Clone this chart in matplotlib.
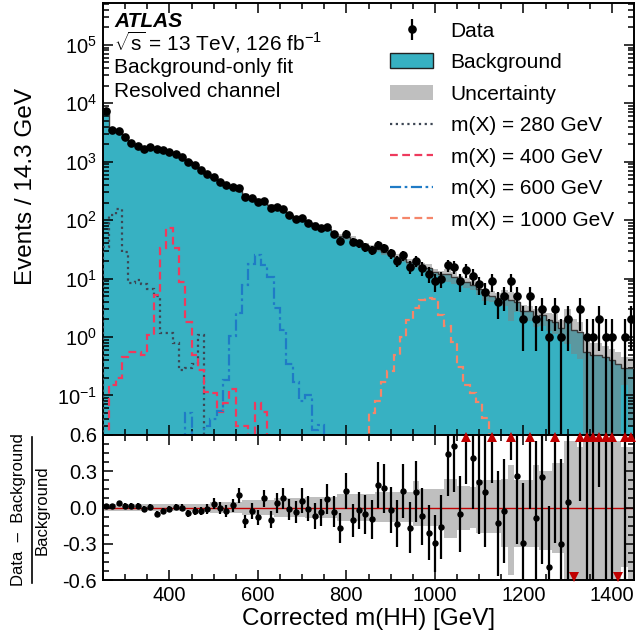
import numpy as np
import matplotlib
matplotlib.use('Agg')
import matplotlib.pyplot as plt
from matplotlib.ticker import MultipleLocator, LogLocator, NullFormatter, FormatStrFormatter
from matplotlib.lines import Line2D
from matplotlib.patches import Patch

plt.rcParams['font.family'] = ['Liberation Sans', 'DejaVu Sans']
plt.rcParams['mathtext.fontset'] = 'custom'
plt.rcParams['mathtext.rm'] = 'Liberation Sans'
plt.rcParams['mathtext.it'] = 'Liberation Sans:italic'
plt.rcParams['mathtext.bf'] = 'Liberation Sans:bold'

# 84 bins of 14.3 GeV between 250 and 1450 GeV
edges = np.linspace(250, 1450, 85)

data = [7300, 3450, 3320, 2650, 2050, 1840, 1680, 1790, 1680, 1570,
        1470, 1345, 1210, 970, 895, 715, 610, 542, 458, 397,
        363, 353, 245, 239, 204, 215, 162, 166, 154, 122,
        105, 110, 90, 79, 72, 76, 58, 44, 59, 43,
        40, 34, 31, 38, 33, 27, 20, 25, 16, 20,
        15, 12, 9, 10, 17, 16, 9, 14, 11, 8,
        6, 9, 4, 5, 9, 5, 2, 5, 2, 3,
        1, 3, 1, 2, 0, 3, 1, 1, 2, 1,
        1, 0, 1, 2]

background = [7230, 3420, 3210, 2610, 2020, 1820, 1705, 1780, 1770, 1615,
              1485, 1340, 1210, 1020, 923, 737, 616, 526, 460, 409,
              356, 321, 277, 246, 222, 200, 180, 160, 143, 124,
              109, 104, 91, 85, 75, 71, 60, 53, 52, 48,
              41, 36, 34.4, 32, 28.5, 27.5, 23.1, 22.0, 19.2, 17.7,
              16.2, 15.2, 12.8, 11.9, 11.8, 10.6, 9.5, 8.6, 7.8, 6.6,
              5.3, 5.0, 4.6, 5.15, 4.3, 3.96, 2.83, 2.8, 2.2, 2.39,
              1.98, 1.8, 1.43, 1.92, 1.3, 1.2, 0.55, 0.5, 0.5, 0.45,
              0.4, 0.35, 0.3, 0.3]

# relative background uncertainty (up / down), per bin
unc_up = ([0.025] * 12 + [0.03] * 5 + [0.045] * 5 + [0.06] * 5 + [0.075] * 5
          + [0.09] * 5 + [0.11] * 6 + [0.13] * 6 + [0.22] + [0.15] * 4
          + [0.24] * 2 + [0.18] * 2 + [0.17] + [0.23] * 4 + [0.24] + [0.35]
          + [0.23] * 3 + [0.35] + [0.30] * 2 + [0.37] * 2 + [0.55] * 2 + [0.50]
          + [0.55] * 6 + [0.50] + [0.50])
unc_down = ([0.025] * 12 + [0.03] * 5 + [0.045] * 5 + [0.06] * 5 + [0.075] * 5
            + [0.09] * 5 + [0.11] * 6 + [0.12] * 6 + [0.15] + [0.15] * 4
            + [0.25] * 2 + [0.19] * 2 + [0.17] + [0.21] * 4 + [0.33] + [0.56]
            + [0.33] * 3 + [0.33] + [0.35] * 2 + [0.38] * 2 + [0.60] * 2 + [0.65]
            + [0.97] * 6 + [0.49] + [0.90])

# signal templates: (first bin index, values)
sig_280 = (0, [35, 122, 158, 28.7, 8.5, 9.5, 8.0, 6.5, 5.0, 1.16, 1.16, 0.78,
               0.27, 0.29, 0.35, 1.08])
sig_400 = (0, [0, 0.15, 0.2, 0.46, 0.55, 0.55, 0.49, 1.08, 5.2, 33, 72, 33, 8.8,
               1.83, 0.49, 0.27, 0.116, 0.109, 0.053, 0.073, 0.13, 0.03, 0.03,
               0, 0.073, 0.053])
sig_600 = (13, [0.05, 0, 0, 0.03, 0.04, 0.055, 0.18, 1.05, 2.6, 7.7, 18, 25, 17,
                10.7, 3.1, 1.32, 0.35, 0.17, 0.08, 0.1, 0.026, 0.031])
sig_1000 = (42, [0.05, 0.079, 0.17, 0.26, 0.49, 1.0, 1.95, 3.1, 4.3, 4.6, 4.4,
                 2.4, 1.54, 0.83, 0.31, 0.15, 0.11, 0.078, 0.041])

signals = [('m(X) = 280 GeV', sig_280, '#3d4654', (0, (1, 1.6))),
           ('m(X) = 400 GeV', sig_400, '#ee3a5d', (0, (3.5, 2))),
           ('m(X) = 600 GeV', sig_600, '#1f7bc6', (0, (5, 1.6, 1.2, 1.6))),
           ('m(X) = 1000 GeV', sig_1000, '#f5866a', (0, (3.5, 2)))]

cyan = '#37b1c2'
data = np.array(data, dtype=float)
background = np.array(background, dtype=float)
up = np.array(unc_up)
dn = np.array(unc_down)
centers = 0.5 * (edges[:-1] + edges[1:])
nb = len(centers)

fig = plt.figure(figsize=(6.36, 6.35), dpi=100)
ax = fig.add_axes([103 / 636, 1 - 435 / 635, 531 / 636, 432 / 635])
rax = fig.add_axes([103 / 636, 1 - 580 / 635, 531 / 636, 145 / 635], sharex=ax)

# ---- main panel
ax.set_yscale('log')
ax.stairs(background, edges, fill=True, color=cyan, baseline=1e-4, zorder=1)
band_lo = np.clip(background * (1 - dn), 1e-4, None)
band_hi = background * (1 + up)
ax.fill_between(edges, np.append(band_lo, band_lo[-1]), np.append(band_hi, band_hi[-1]),
                step='post', color='0.5', alpha=0.5, lw=0, zorder=2)
ax.stairs(background, edges, baseline=None, color='#3a3a3a', lw=1.0, zorder=3)

sig_handles = []
for label, (start, vals), col, ls in signals:
    full = np.zeros(nb)
    full[start:start + len(vals)] = vals
    full = np.where(full > 0, full, 1e-4)
    ax.stairs(full, edges, baseline=1e-4, color=col, lw=1.6, ls=ls, zorder=4)
    sig_handles.append(Line2D([], [], color=col, lw=1.6, ls=ls, label=label))

m = data > 0
err = np.sqrt(data[m])
lo = np.minimum(err, data[m] - 1e-4)
h_data = ax.errorbar(centers[m], data[m], yerr=[lo, err], fmt='o', color='k',
                     ms=5.2, elinewidth=1.6, capsize=0, zorder=6)

ax.set_xlim(250, 1450)
ax.set_ylim(0.021, 5.2e5)
ax.set_ylabel('Events / 14.3 GeV', fontsize=17.5)
ax.yaxis.set_label_coords(-0.124, 0.575)
ax.yaxis.set_major_locator(LogLocator(base=10, numticks=20))
ax.yaxis.set_minor_locator(LogLocator(base=10, subs=np.arange(2, 10), numticks=20))
ax.yaxis.set_minor_formatter(NullFormatter())
plt.setp(ax.get_xticklabels(), visible=False)

ax.text(0.021, 0.945, 'ATLAS', transform=ax.transAxes, fontsize=15,
        fontweight='bold', fontstyle='italic', va='baseline')
ax.text(0.021, 0.891, r'$\sqrt{\mathrm{s}}$ = 13 TeV, 126 fb$^{-1}$', transform=ax.transAxes,
        fontsize=15, va='baseline')
ax.text(0.021, 0.838, 'Background-only fit', transform=ax.transAxes, fontsize=15,
        va='baseline')
ax.text(0.021, 0.783, 'Resolved channel', transform=ax.transAxes, fontsize=15,
        va='baseline')

handles = [h_data,
           Patch(facecolor=cyan, edgecolor='#222222', lw=1.0),
           Patch(facecolor='0.5', alpha=0.5, lw=0)] + sig_handles
labels = ['Data', 'Background', 'Uncertainty'] + [s[0] for s in signals]
ax.legend(handles, labels, loc='upper left', bbox_to_anchor=(0.541, 0.957),
          frameon=False, fontsize=15, handlelength=2.05, handletextpad=0.85,
          labelspacing=0.6, borderpad=0, borderaxespad=0)

# ---- ratio panel
ratio = np.where(m, data / background - 1, -1.0)
rerr = np.sqrt(data) / background
rax.fill_between(edges, np.append(-dn, -dn[-1]), np.append(up, up[-1]), step='post',
                 color='0.5', alpha=0.5, lw=0, zorder=1)
rax.axhline(0, color='#c00000', lw=1.0, zorder=2)
rax.errorbar(centers[m], ratio[m], yerr=rerr[m], fmt='o', color='k', ms=3.6,
             elinewidth=1.6, capsize=0, zorder=4)
hi = ratio > 0.6
low = ratio < -0.6
rax.plot(centers[hi], np.full(hi.sum(), 0.583), '^', color='#c00000', ms=6.5,
         mew=0, zorder=5, clip_on=False)
rax.plot(centers[low], np.full(low.sum(), -0.575), 'v', color='#c00000', ms=6.5,
         mew=0, zorder=5, clip_on=False)
rax.set_ylim(-0.6, 0.6)
rax.yaxis.set_major_locator(MultipleLocator(0.3))
rax.yaxis.set_minor_locator(MultipleLocator(0.075))
rax.yaxis.set_major_formatter(FormatStrFormatter('%.1f'))
rax.xaxis.set_major_locator(MultipleLocator(200))
rax.xaxis.set_minor_locator(MultipleLocator(50))
rax.set_xlabel('Corrected m(HH) [GeV]', fontsize=17.5)
rax.xaxis.set_label_coords(0.5, -0.19)

# ratio y-label drawn as a fraction: numerator, bar, denominator
fig.text(18.5 / 636, 1 - 510 / 635, 'Data  \u2013  Background', rotation=90,
         fontsize=12, ha='center', va='center')
fig.add_artist(Line2D([31.5 / 636, 31.5 / 636], [1 - 437 / 635, 1 - 583 / 635],
                      color='k', lw=1.2, transform=fig.transFigure))
fig.text(42 / 636, 1 - 510 / 635, 'Background', rotation=90, fontsize=12,
         ha='center', va='center')

for a in (ax, rax):
    a.tick_params(which='both', direction='in', top=True, right=True, labelsize=14.5,
                  width=1.1)
    a.tick_params(which='major', length=7.5, pad=4.5)
    a.tick_params(which='minor', length=4)
    for s in a.spines.values():
        s.set_linewidth(1.4)
    a.set_axisbelow(False)

fig.savefig('out.png', dpi=100)
